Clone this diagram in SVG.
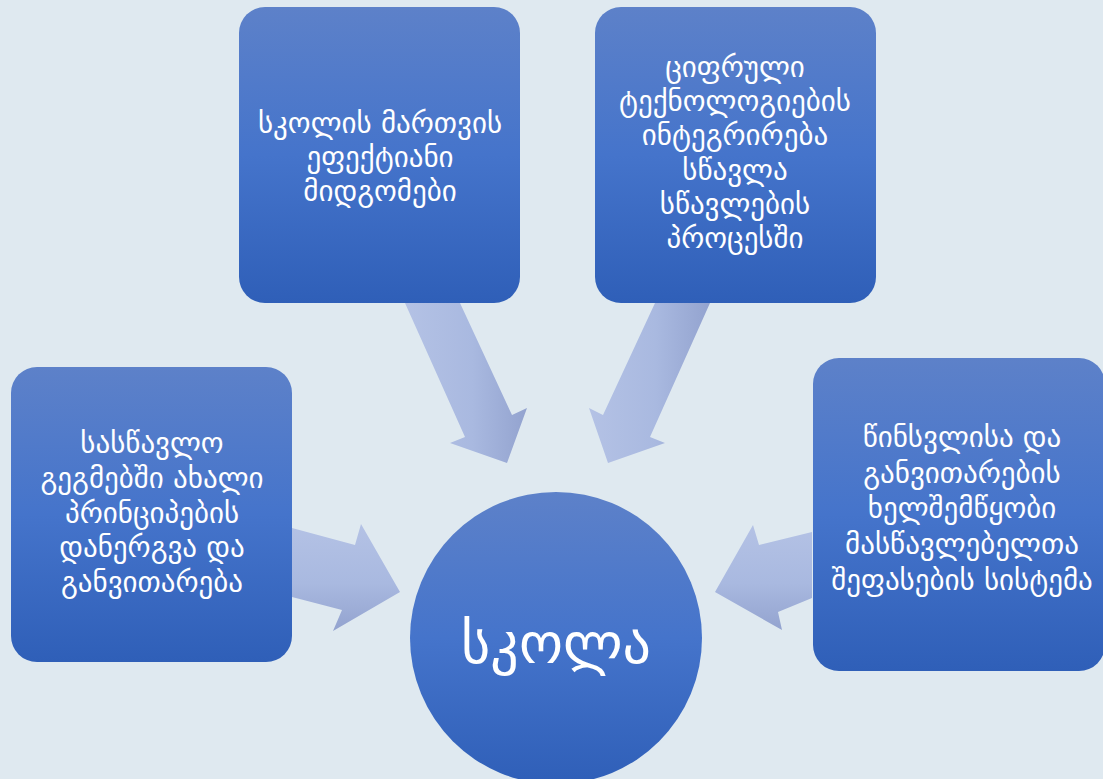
<svg xmlns="http://www.w3.org/2000/svg" width="1103" height="779" viewBox="0 0 1103 779">
<defs>
<linearGradient id="gBox" x1="0" y1="0" x2="0" y2="1">
<stop offset="0" stop-color="#5d81c9"/>
<stop offset="0.5" stop-color="#4574cb"/>
<stop offset="1" stop-color="#2f5fb8"/>
</linearGradient>
<linearGradient id="gArrH" x1="0" y1="0" x2="1" y2="0">
<stop offset="0" stop-color="#b4c2e5"/>
<stop offset="0.55" stop-color="#a9b9e0"/>
<stop offset="1" stop-color="#93a3cf"/>
</linearGradient>
<linearGradient id="gArrV2" x1="0" y1="0" x2="0" y2="1">
<stop offset="0" stop-color="#b4c2e5"/>
<stop offset="0.55" stop-color="#a9b9e0"/>
<stop offset="1" stop-color="#93a3cf"/>
</linearGradient>
</defs>
<style>
.box{fill:url(#gBox);}
.t{font-family:"DejaVu Sans",sans-serif;font-size:29px;fill:#ffffff;text-anchor:middle;}
.big{font-size:56px;}
</style>
<rect x="0" y="0" width="1103" height="779" fill="#dfe9f0"/>
<g id="connectors">
<polygon fill="url(#gArrH)" points="405,303 460,303 512,415 527,408 507,463 450,443 465,437"/>
<polygon fill="url(#gArrH)" points="655,303 710,303 650,437 665,443 608,463 589,408 603,415"/>
<polygon fill="url(#gArrV2)" points="292,528 355,545 361,524 400,592 333,631 342,610 292,597"/>
<polygon fill="url(#gArrV2)" points="812,532 759,545 753,525 715,592 782,630 778,612 812,598"/>
</g>
<g id="node-top-left">
<rect class="box" x="239" y="7" width="281" height="296" rx="26"/>
<text class="t" x="380" y="133">სკოლის მართვის</text>
<text class="t" x="380" y="167">ეფექტიანი</text>
<text class="t" x="380" y="201">მიდგომები</text>
</g>
<g id="node-top-right">
<rect class="box" x="595" y="7" width="281" height="296" rx="26"/>
<text class="t" x="735" y="77">ციფრული</text>
<text class="t" x="735" y="111">ტექნოლოგიების</text>
<text class="t" x="735" y="145">ინტეგრირება</text>
<text class="t" x="735" y="180">სწავლა</text>
<text class="t" x="735" y="214">სწავლების</text>
<text class="t" x="735" y="248">პროცესში</text>
</g>
<g id="node-left">
<rect class="box" x="11" y="367" width="281" height="295" rx="26"/>
<text class="t" x="152" y="453">სასწავლო</text>
<text class="t" x="152" y="488">გეგმებში ახალი</text>
<text class="t" x="152" y="523">პრინციპების</text>
<text class="t" x="152" y="557">დანერგვა და</text>
<text class="t" x="152" y="592">განვითარება</text>
</g>
<g id="node-right">
<rect class="box" x="813" y="358" width="292" height="313" rx="26"/>
<text class="t" x="962" y="447">წინსვლისა და</text>
<text class="t" x="962" y="483">განვითარების</text>
<text class="t" x="962" y="518">ხელშემწყობი</text>
<text class="t" x="962" y="554">მასწავლებელთა</text>
<text class="t" x="962" y="590">შეფასების სისტემა</text>
</g>
<g id="node-center">
<circle class="box" cx="556" cy="638" r="146"/>
<text class="t big" x="556" y="663">სკოლა</text>
</g>
</svg>
